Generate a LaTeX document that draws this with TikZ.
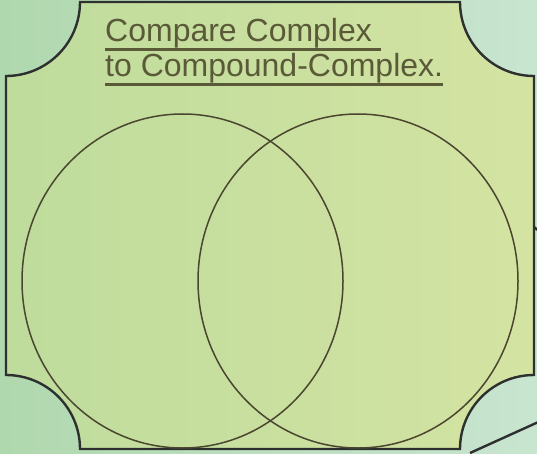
\documentclass[tikz,border=0pt]{standalone}
\usepackage{fontspec}
\setmainfont{Liberation Sans}
\usepackage{tikz}
\usetikzlibrary{positioning}
\usepackage{xcolor}
\definecolor{outerleft}{HTML}{B0D8AE}
\definecolor{outerright}{HTML}{C8E5D0}
\definecolor{innergreen}{HTML}{BEDC9C}
\definecolor{inneryellow}{HTML}{D4E3A2}
\definecolor{framegray}{HTML}{2E3030}
\definecolor{vennline}{HTML}{4A4630}
\definecolor{headolive}{HTML}{5A5938}
% underline at a fixed depth below the baseline
\newcommand{\headuline}[1]{\setbox0\hbox{#1}\rlap{\vrule height -5.8pt depth 8.6pt width \wd0}\box0}

\begin{document}
\begin{tikzpicture}[
    x=1pt, y=1pt,
    frame/.style={draw=framegray, line width=2.4pt},
    venn/.style={draw=vennline, line width=1.5pt},
    heading/.style={font=\fontsize{32}{35}\selectfont, text=headolive, inner sep=0pt, anchor=base west}
]
    \useasboundingbox (0,0) rectangle (537,453);
    \clip (0,0) rectangle (537,453);
    % backdrop
    \shade[left color=outerleft, right color=outerright] (0,0) rectangle (537,453);

    % scalloped frame
    \shade[left color=innergreen, right color=inneryellow]
        (80,451) -- (460,451) arc[start angle=180, end angle=270, radius=74]
        -- (534,78) arc[start angle=90, end angle=180, radius=74]
        -- (80,4) arc[start angle=0, end angle=90, radius=74]
        -- (6,377) arc[start angle=270, end angle=360, radius=74] -- cycle;
    \draw[frame]
        (80,451) -- (460,451) arc[start angle=180, end angle=270, radius=74]
        -- (534,78) arc[start angle=90, end angle=180, radius=74]
        -- (80,4) arc[start angle=0, end angle=90, radius=74]
        -- (6,377) arc[start angle=270, end angle=360, radius=74] -- cycle;

    % edges of the next shapes
    \coordinate (tickA) at (534,226);
    \coordinate (tickB) at (540,221);
    \coordinate (edgeA) at (470,0);
    \coordinate (edgeB) at (545,34);
    \draw[frame] (tickA) -- (tickB);
    \draw[frame] (edgeA) -- (edgeB);

    % heading
    \node[heading] (line1) at (105,411) {\headuline{Compare Complex\ }};
    \node[heading] (line2) at (105,376) {\headuline{to Compound-Complex.}};

    % venn circles
    \draw[venn] (182.5,172) ellipse [x radius=160.5, y radius=167];
    \draw[venn] (358,172) ellipse [x radius=160, y radius=167];
\end{tikzpicture}
\end{document}
